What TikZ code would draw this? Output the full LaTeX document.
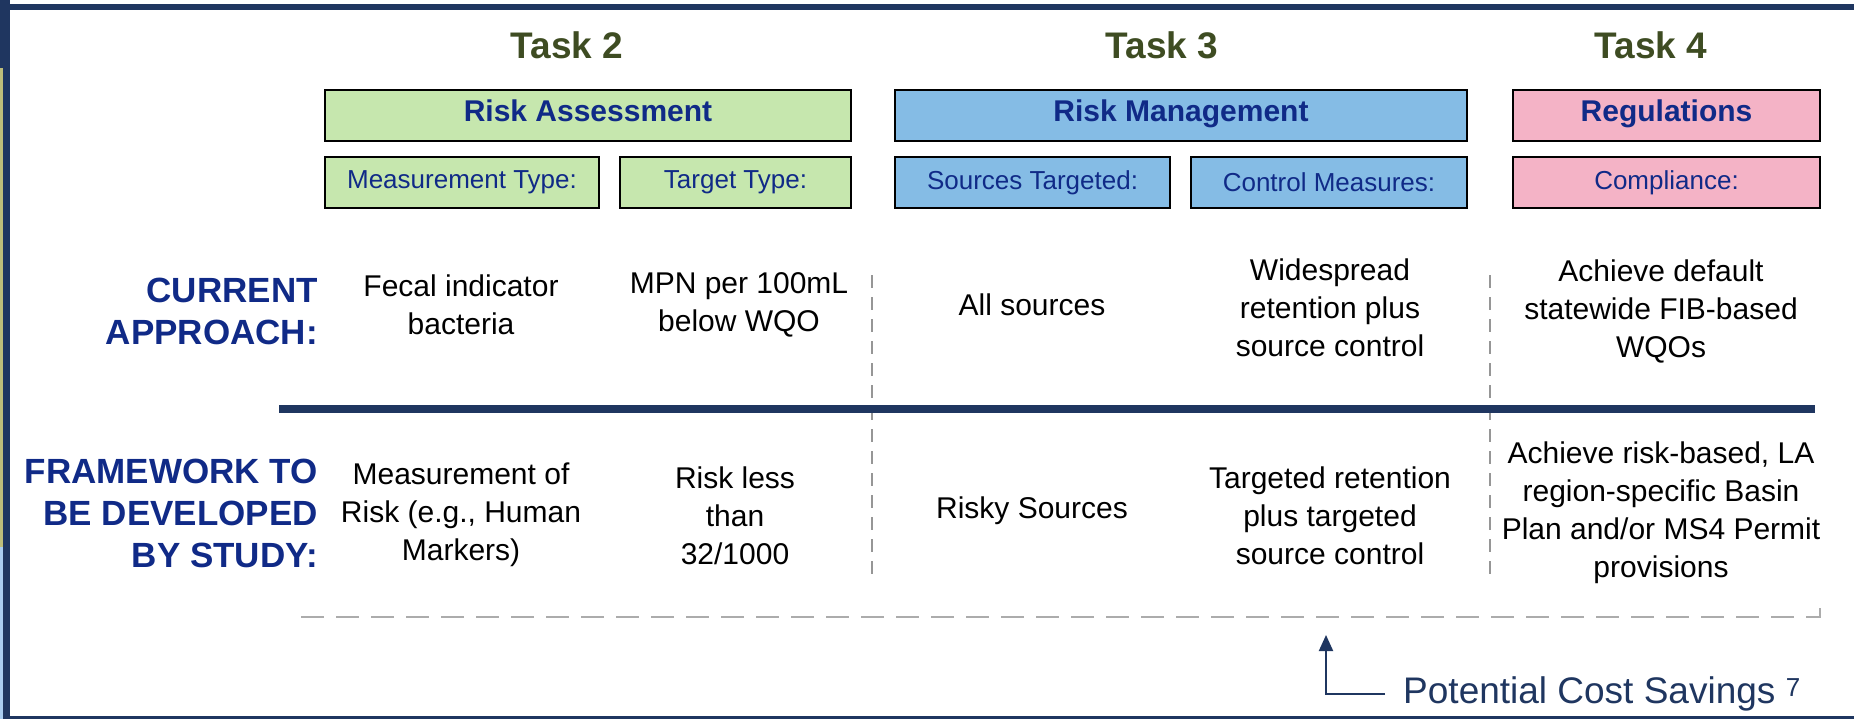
\documentclass[tikz,border=0pt]{standalone}
\usepackage{fontspec}
\setmainfont{Liberation Sans}
\usetikzlibrary{arrows.meta}
\definecolor{navy}{RGB}{31,54,96}
\definecolor{textblue}{RGB}{16,42,135}
\definecolor{taskgreen}{RGB}{62,76,34}
\definecolor{assessgreen}{RGB}{198,231,174}
\definecolor{managblue}{RGB}{133,188,229}
\definecolor{regpink}{RGB}{244,179,198}
\definecolor{stripkhaki}{RGB}{190,190,122}
\definecolor{stripblue}{RGB}{170,205,240}
\definecolor{dashgray}{RGB}{150,150,150}
\definecolor{lightdash}{RGB}{172,172,172}
\tikzset{
    headbox/.style={draw=black,line width=2pt,minimum height=51pt,inner sep=0pt,
        text height=21pt,text depth=8pt,
        font=\fontsize{30}{36}\selectfont\bfseries,text=textblue},
    subbox/.style={draw=black,line width=2pt,minimum height=51pt,inner sep=0pt,
        font=\fontsize{26}{31}\selectfont,text=textblue},
    celltext/.style={align=center,inner sep=0pt,font=\fontsize{30}{38}\selectfont,text=black},
    rowlabel/.style={align=right,anchor=east,inner sep=0pt,
        font=\fontsize{35}{42}\selectfont\bfseries,text=textblue},
    tasklabel/.style={font=\fontsize{37}{44}\selectfont\bfseries,text=taskgreen},
    divider/.style={draw=dashgray,line width=2pt,dash pattern=on 13pt off 9pt}
}
\begin{document}
\begin{tikzpicture}[>={Stealth[inset=0pt,length=16pt,width=14pt]},x=1pt,y=-1pt]
                        \useasboundingbox (0,0) rectangle (1854,719);
                        \fill[navy] (0,0) rectangle (10,719);
                        \fill[stripkhaki] (0,68) rectangle (3,547);
                        \fill[stripblue] (0,547) rectangle (3,719);
                        \fill[navy] (0,4) rectangle (1854,10);
                        \fill[navy] (10,716) rectangle (1854,719);
                        \node[tasklabel] (task2) at (567,45) {Task 2};
                        \node[tasklabel] (task3) at (1162,45) {Task 3};
                        \node[tasklabel] (task4) at (1651,45) {Task 4};
                        \node[headbox,fill=assessgreen,minimum width=526pt] (assess) at (588,115.5) {Risk Assessment};
                        \node[subbox,fill=assessgreen,minimum width=274pt] (meastype) at (462,182.5) {Measurement Type:};
                        \node[subbox,fill=assessgreen,minimum width=231pt] (targtype) at (735.5,182.5) {Target Type:};
                        \node[headbox,fill=managblue,minimum width=572pt] (manage) at (1181,115.5) {Risk Management};
                        \node[subbox,fill=managblue,minimum width=275pt] (sources) at (1032.5,182.5) {Sources Targeted:};
                        \node[subbox,fill=managblue,minimum width=276pt] (control) at (1329,182.5) {Control Measures:};
                        \node[headbox,fill=regpink,minimum width=307pt] (regs) at (1666.5,115.5) {Regulations};
                        \node[subbox,fill=regpink,minimum width=307pt] (comply) at (1666.5,182.5) {Compliance:};
                        \node[rowlabel] (current) at (318,311) {CURRENT\\APPROACH:};
                        \node[rowlabel] (framework) at (318,513) {FRAMEWORK TO\\BE DEVELOPED\\BY STUDY:};
                        \node[celltext] (fib) at (461,305) {Fecal indicator\\bacteria};
                        \node[celltext] (mpn) at (739,305) {MPN per 100mL\\below WQO};
                        \node[celltext] (allsrc) at (1032,305) {All sources};
                        \node[celltext] (widespread) at (1330,308) {Widespread\\retention plus\\source control};
                        \node[celltext] (achdefault) at (1661,311) {Achieve default\\statewide FIB-based\\WQOs};
                        \node[celltext] (humanrisk) at (461,515) {Measurement of\\Risk (e.g., Human\\Markers)};
                        \node[celltext] (riskless) at (735,516) {Risk less\\than\\32/1000};
                        \node[celltext] (riskysrc) at (1032,511) {Risky Sources};
                        \node[celltext] (targeted) at (1330,516) {Targeted retention\\plus targeted\\source control};
                        \node[celltext] (achrisk) at (1661,513) {Achieve risk-based, LA\\region-specific Basin\\Plan and/or MS4 Permit\\provisions};
                        \draw[divider] (872,275) -- (872,575);
                        \draw[divider] (1490,275) -- (1490,583);
                        \draw[navy,line width=8pt] (279,409) -- (1815,409);
                        \draw[lightdash,line width=2.5pt,dash pattern=on 23pt off 12pt] (301,617) -- (1820,617) -- (1820,607);
                        \coordinate (savetip) at (1326,635);
                        \node[anchor=west,inner xsep=18pt,inner ysep=2pt,text=navy,font=\fontsize{37}{44}\selectfont]
                            (savings) at (1385,694) {Potential Cost Savings {\fontsize{26}{26}\selectfont\raisebox{7pt}{7}}};
                        \draw[->,navy,line width=2pt] (savings.west) -| (savetip);
                    \end{tikzpicture}
\end{document}
